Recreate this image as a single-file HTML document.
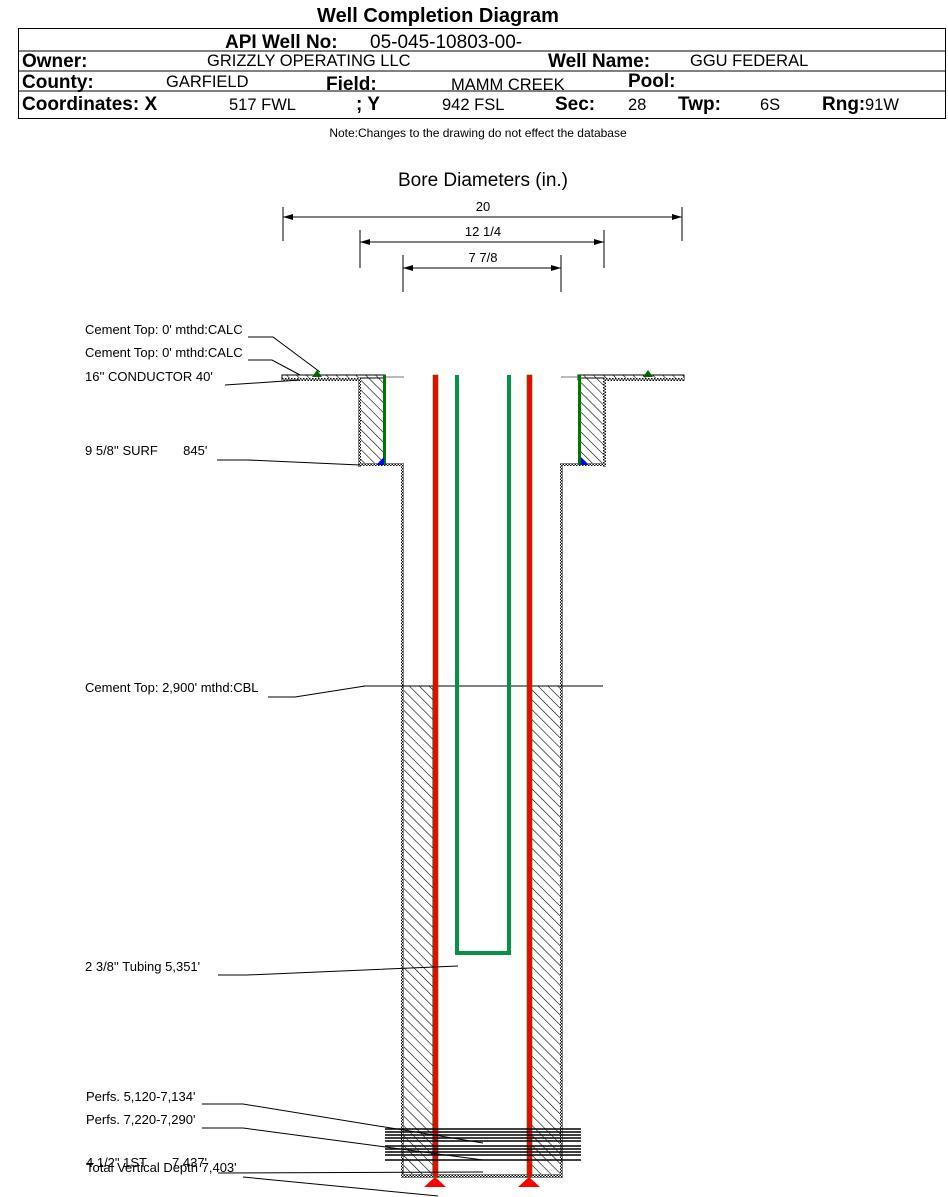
<!DOCTYPE html><html><head><style>body{margin:0;background:#fff}svg{display:block;font-family:"Liberation Sans",sans-serif}</style></head><body>
<svg width="948" height="1197" viewBox="0 0 948 1197" xmlns="http://www.w3.org/2000/svg">
<defs><pattern id="h" width="7" height="7" patternUnits="userSpaceOnUse" patternTransform="rotate(-45)"><rect width="7" height="7" fill="#fff"/><line x1="0" y1="0" x2="0" y2="7" stroke="#000" stroke-width="1.2"/></pattern>
<pattern id="w" width="3" height="3" patternUnits="userSpaceOnUse"><rect width="3" height="3" fill="#fff"/><rect width="1.5" height="1.5" fill="#000"/><rect x="1.5" y="1.5" width="1.5" height="1.5" fill="#000"/></pattern></defs>
<text x="438" y="22" font-size="20" font-weight="bold" text-anchor="middle">Well Completion Diagram</text>
<rect x="18.5" y="28.5" width="927" height="90" fill="none" stroke="#000"/>
<line x1="18" y1="51" x2="946" y2="51" stroke="#000"/>
<line x1="18" y1="71" x2="946" y2="71" stroke="#000"/>
<line x1="18" y1="91" x2="946" y2="91" stroke="#000"/>
<g font-size="19" font-weight="bold"><text x="225" y="48">API Well No:</text><text x="22" y="67">Owner:</text><text x="548" y="67">Well Name:</text><text x="22" y="88">County:</text><text x="326" y="90">Field:</text><text x="628" y="87">Pool:</text><text x="22" y="110">Coordinates: X</text><text x="356" y="110">; Y</text><text x="555" y="110">Sec:</text><text x="678" y="110">Twp:</text><text x="822" y="110">Rng:</text></g>
<g font-size="16.5"><text x="370" y="48" font-size="19">05-045-10803-00-</text><text x="207" y="66">GRIZZLY OPERATING LLC</text><text x="690" y="66">GGU FEDERAL</text><text x="166" y="87">GARFIELD</text><text x="451" y="90">MAMM CREEK</text><text x="229" y="110">517 FWL</text><text x="442" y="110">942 FSL</text><text x="628" y="110">28</text><text x="760" y="110">6S</text><text x="865" y="110">91W</text></g>
<text x="478" y="137" font-size="12" text-anchor="middle">Note:Changes to the drawing do not effect the database</text>
<text x="483" y="186" font-size="19" text-anchor="middle">Bore Diameters (in.)</text>
<g stroke="#000" stroke-width="1">
<line x1="283" y1="207" x2="283" y2="241"/><line x1="682" y1="207" x2="682" y2="241"/><line x1="283" y1="217" x2="682" y2="217"/>
<line x1="360" y1="230" x2="360" y2="268"/><line x1="604" y1="230" x2="604" y2="268"/><line x1="360" y1="242" x2="604" y2="242"/>
<line x1="403" y1="255" x2="403" y2="292"/><line x1="561" y1="255" x2="561" y2="292"/><line x1="403" y1="268" x2="561" y2="268"/>
</g>
<g fill="#000"><path d="M283,217 l10,-3 v6z M682,217 l-10,-3 v6z M360,242 l10,-3 v6z M604,242 l-10,-3 v6z M403,268 l10,-3 v6z M561,268 l-10,-3 v6z"/></g>
<g font-size="13" text-anchor="middle"><text x="483" y="211">20</text><text x="483" y="236">12 1/4</text><text x="483" y="262">7 7/8</text></g>
<g stroke="#000" stroke-width="1">
<rect x="282" y="375" width="103" height="5" fill="url(#h)"/><rect x="578" y="375" width="106" height="5" fill="url(#h)"/>
<rect x="360" y="378" width="24" height="87" fill="url(#h)"/><rect x="579" y="378" width="25" height="87" fill="url(#h)"/>
<rect x="403" y="686" width="30" height="491" fill="url(#h)"/><rect x="531" y="686" width="30" height="491" fill="url(#h)"/>
</g>
<g fill="url(#w)"><rect x="282" y="378" width="78" height="3"/><rect x="604" y="378" width="80" height="3"/>
<rect x="358" y="378" width="3" height="89"/><rect x="603" y="378" width="3" height="89"/>
<rect x="358" y="463" width="46" height="3"/><rect x="560" y="463" width="46" height="3"/>
<rect x="401" y="463" width="3" height="714"/><rect x="560" y="463" width="3" height="714"/>
<rect x="401" y="1174" width="162" height="4"/></g>
<line x1="385" y1="377" x2="404" y2="377" stroke="#777"/><line x1="561" y1="377" x2="578" y2="377" stroke="#777"/>
<line x1="363" y1="686" x2="603" y2="686" stroke="#000"/>
<rect x="383" y="375" width="3" height="90" fill="#070"/><rect x="578" y="375" width="3" height="90" fill="#070"/>
<path d="M376,465 L384,457 L384,465z M581,457 L589,465 L581,465z" fill="#00f"/>
<path d="M312,377 l5,-7 l5,7z M643,377 l5,-7 l5,7z" fill="#060"/>
<rect x="433" y="375" width="5" height="802" fill="#f00" stroke="#080" stroke-width="0.6"/>
<rect x="527" y="375" width="5" height="802" fill="#f00" stroke="#080" stroke-width="0.6"/>
<rect x="455" y="375" width="4" height="580" fill="#089048"/><rect x="507" y="375" width="4" height="580" fill="#089048"/>
<rect x="455" y="951" width="56" height="4" fill="#089048"/>
<path d="M424,1187 L435,1177 L446,1187z M518,1187 L529,1177 L540,1187z" fill="#f00"/>
<g stroke="#000" stroke-width="1.5"><line x1="385" y1="1129" x2="581" y2="1129"/><line x1="385" y1="1132" x2="581" y2="1132"/><line x1="385" y1="1135" x2="581" y2="1135"/><line x1="385" y1="1138" x2="581" y2="1138"/><line x1="385" y1="1141" x2="581" y2="1141"/><line x1="385" y1="1146" x2="581" y2="1146"/><line x1="385" y1="1149" x2="581" y2="1149"/><line x1="385" y1="1152" x2="581" y2="1152"/><line x1="385" y1="1155" x2="581" y2="1155"/><line x1="385" y1="1160" x2="581" y2="1160"/></g>
<g font-size="13"><text x="85" y="334">Cement Top: 0' mthd:CALC</text><text x="85" y="357">Cement Top: 0' mthd:CALC</text><text x="85" y="381">16'' CONDUCTOR  40'</text><text x="85" y="455" xml:space="preserve">9 5/8'' SURF       845'</text><text x="85" y="692">Cement Top: 2,900' mthd:CBL</text><text x="85" y="971">2 3/8'' Tubing 5,351'</text><text x="86" y="1101">Perfs. 5,120-7,134'</text><text x="86" y="1124">Perfs. 7,220-7,290'</text><text x="86" y="1167" xml:space="preserve">4 1/2" 1ST       7,437'</text><text x="86" y="1172">Total Vertical Depth 7,403'</text></g>
<g stroke="#000" fill="none" stroke-width="1"><polyline points="248,337 273,337 320,372"/><polyline points="248,360 272,360 300,375"/><polyline points="225,385 300,380"/><polyline points="217,460 248,460 360,465"/><polyline points="268,697 295,697 365,686"/><polyline points="218,975 247,975 458,966"/><polyline points="202,1104 243,1104 483,1143"/><polyline points="202,1128 243,1128 483,1160"/><polyline points="218,1173 483,1172"/><polyline points="243,1177 438,1196"/></g>
</svg></body></html>
